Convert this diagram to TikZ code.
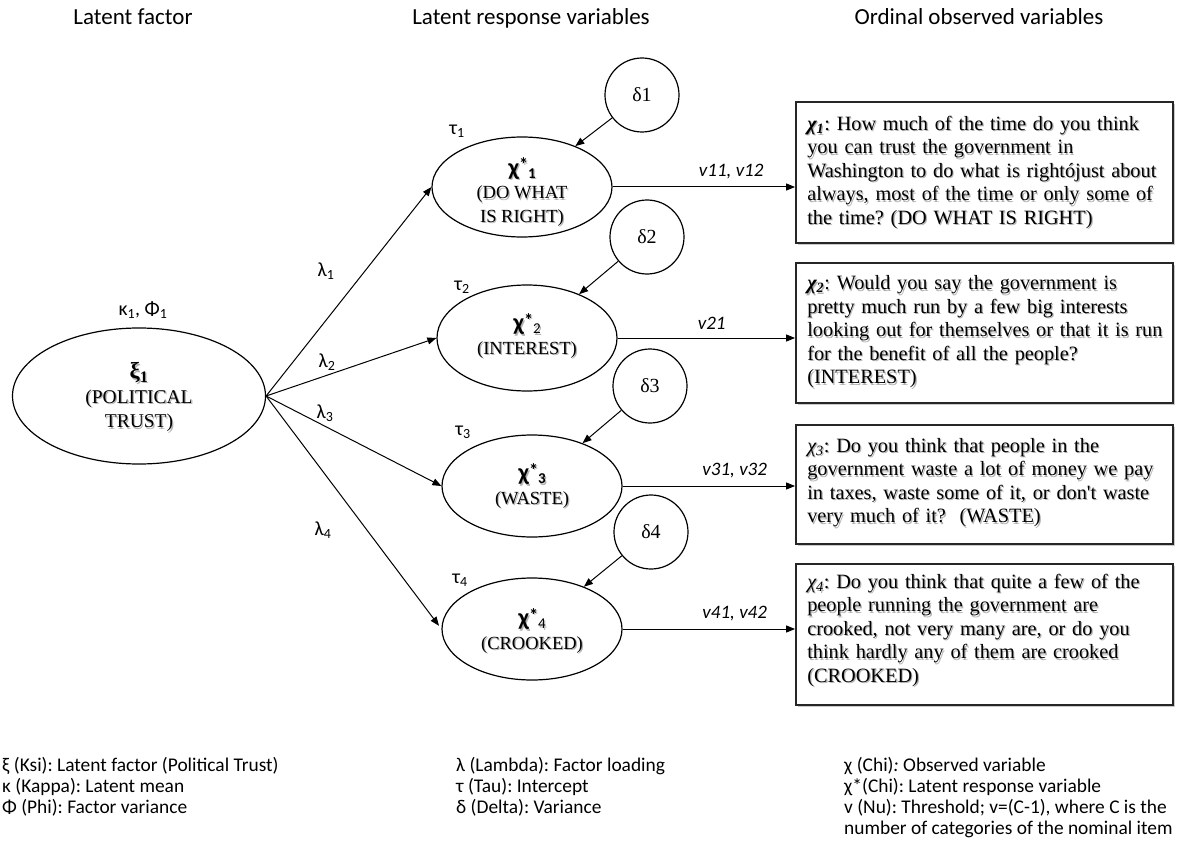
\documentclass[tikz,border=0pt]{standalone}
\usepackage{fontspec}
\setmainfont{Liberation Serif}[Ligatures=TeXOff]
\newfontfamily\calfont{Carlito}
\usetikzlibrary{arrows.meta,shadows,shapes.geometric,calc}

% question texts of the four ordinal items
\newcommand\QtxtA{{\bfseries\itshape χ\textsubscript{1}}: How much of the time do you think\\
you can trust the government in\\
Washington to do what is rightójust about\\
always, most of the time or only some of\\
the time? (DO WHAT IS RIGHT)}
\newcommand\QtxtB{{\bfseries\itshape χ\textsubscript{2}}: Would you say the government is\\
pretty much run by a few big interests\\
looking out for themselves or that it is run\\
for the benefit of all the people?\\
(INTEREST)}
\newcommand\QtxtC{{\itshape χ\textsubscript{3}}: Do you think that people in the\\
government waste a lot of money we pay\\
in taxes, waste some of it, or don't waste\\
very much of it?\ \ (WASTE)}
\newcommand\QtxtD{{\itshape χ\textsubscript{4}}: Do you think that quite a few of the\\
people running the government are\\
crooked, not very many are, or do you\\
think hardly any of them are crooked\\
(CROOKED)}
% latent response symbol: chi, star, index
\newcommand\chistar[1]{{\calfont\bfseries\fontsize{24}{24}\selectfont χ\raisebox{4.5pt}{\fontsize{18}{18}\selectfont *}\raisebox{-3pt}{\fontsize{15}{15}\selectfont #1}}}
% texts inside the latent ellipses
\newcommand\XtxtA{\chistar{1}\\(DO WHAT\\IS RIGHT)}
\newcommand\XtxtB{\chistar{\mdseries 2}\\(INTEREST)}
\newcommand\XtxtC{\chistar{3}\\(WASTE)}
\newcommand\XtxtD{\chistar{\mdseries 4}\\(CROOKED)}
\newcommand\XiTxt{{\bfseries\fontsize{23}{23}\selectfont ξ\textsubscript{1}}\\(POLITICAL\\TRUST)}

\begin{document}
\begin{tikzpicture}[x=1pt,y=-1pt,
  lat/.style={ellipse, draw, line width=1.2pt, inner sep=0pt},
  lattxt/.style={align=center, inner sep=0pt, font=\fontsize{18.5}{23.5}\selectfont},
  xitxt/.style={align=center, inner sep=0pt, font=\fontsize{19.5}{24.5}\selectfont},
  err/.style={circle, draw, line width=1.2pt, minimum size=74pt, inner sep=0pt, font=\fontsize{20}{22}\selectfont},
  arr/.style={-{Triangle[length=9pt,width=7pt]}, line width=1pt},
  obsbox/.style={draw=black!85, line width=1.8pt, fill=white, minimum width=377pt,
    drop shadow={shadow xshift=1.5pt, shadow yshift=-2pt, opacity=0.35, fill=black!60}},
  obstxt/.style={anchor=west, inner sep=0pt, text width=362pt, align=left, font=\fontsize{20.3}{23.5}\selectfont\frenchspacing},
  shd/.style={text=black!30, xshift=1.2pt, yshift=-1.5pt},
  head/.style={font=\calfont\fontsize{23}{27}\selectfont, anchor=base, inner sep=0pt},
  leg/.style={font=\calfont\fontsize{19.4}{21}\selectfont\frenchspacing, anchor=base west, inner sep=0pt},
  sym/.style={font=\calfont\fontsize{20}{24}\selectfont, inner sep=0pt},
  vlab/.style={font=\calfont\itshape\fontsize{19}{22}\selectfont, inner sep=0pt, above=8pt},
]
\useasboundingbox (0,0) rectangle (1177,845);

% column headings
\node[head] (h1) at (133,25) {Latent factor};
\node[head] (h2) at (531,25) {Latent response variables};
\node[head] (h3) at (979,25) {Ordinal observed variables};

% latent factor
\node[xitxt, shd] (xis) at (139,397) {\XiTxt};
\node[lat, minimum width=253pt, minimum height=136pt] (xi) at (139,396) {};
\node[xitxt] (xit) at (139,397) {\XiTxt};
\node[sym] (kp) at (143,310) {κ\textsubscript{1}, Φ\textsubscript{1}};

% latent response variables
\node[lat, minimum width=180pt, minimum height=100pt] (x1) at (522,187) {};
\node[lat, minimum width=180pt, minimum height=106pt] (x2) at (527,338) {};
\node[lat, minimum width=180pt, minimum height=102pt] (x3) at (532,486) {};
\node[lat, minimum width=180pt, minimum height=102pt] (x4) at (532,629) {};
\node[lattxt, shd] (x1s) at (522,192) {\XtxtA};
\node[lattxt] (x1t) at (522,192) {\XtxtA};
\node[lattxt, shd] (x2s) at (527,336) {\XtxtB};
\node[lattxt] (x2t) at (527,336) {\XtxtB};
\node[lattxt, shd] (x3s) at (532,486) {\XtxtC};
\node[lattxt] (x3t) at (532,486) {\XtxtC};
\node[lattxt, shd] (x4s) at (532,631) {\XtxtD};
\node[lattxt] (x4t) at (532,631) {\XtxtD};

% intercepts
\node[sym] (t1) at (457,131) {τ\textsubscript{1}};
\node[sym] (t2) at (462,287) {τ\textsubscript{2}};
\node[sym] (t3) at (463,432) {τ\textsubscript{3}};
\node[sym] (t4) at (460,580) {τ\textsubscript{4}};

% variances
\node[err] (d1) at (642,95) {δ1};
\node[err] (d2) at (647,237) {δ2};
\node[err] (d3) at (650,386) {δ3};
\node[err] (d4) at (651,532) {δ4};

% ordinal observed variables
\node[obsbox, minimum height=141pt] (o1) at (984.5,172.5) {};
\node[obsbox, minimum height=140pt] (o2) at (984.5,333) {};
\node[obsbox, minimum height=119pt] (o3) at (984.5,484.5) {};
\node[obsbox, minimum height=141pt] (o4) at (984.5,634.5) {};
\node[obstxt, shd] (o1s) at ([xshift=12pt]o1.west) {\QtxtA};
\node[obstxt] (o1t) at ([xshift=12pt]o1.west) {\QtxtA};
\node[obstxt, shd] (o2s) at ([xshift=12pt,yshift=1pt]o2.west) {\QtxtB};
\node[obstxt] (o2t) at ([xshift=12pt,yshift=1pt]o2.west) {\QtxtB};
\node[obstxt, shd] (o3s) at ([xshift=12pt,yshift=2pt]o3.west) {\QtxtC};
\node[obstxt] (o3t) at ([xshift=12pt,yshift=2pt]o3.west) {\QtxtC};
\node[obstxt, shd] (o4s) at ([xshift=12pt,yshift=4pt]o4.west) {\QtxtD};
\node[obstxt] (o4t) at ([xshift=12pt,yshift=4pt]o4.west) {\QtxtD};

% factor loadings
\draw[arr] (xi.east) -- (x1.west);
\draw[arr] (xi.east) -- (x2.west);
\draw[arr] (xi.east) -- (x3.west);
\draw[arr, shorten >=4pt] (xi.east) -- (x4.west);
\node[sym] (l1) at (326,271) {λ\textsubscript{1}};
\node[sym] (l2) at (327,362) {λ\textsubscript{2}};
\node[sym] (l3) at (325,413) {λ\textsubscript{3}};
\node[sym] (l4) at (323,530) {λ\textsubscript{4}};

% error terms
\draw[arr] (d1) -- (x1);
\draw[arr] (d2) -- (x2);
\draw[arr] (d3) -- (x3);
\draw[arr] (d4) -- (x4);

% thresholds
\draw[arr] (x1.east) -- (x1.east -| o1.west) node[vlab, pos=0.65] (v1) {v11, v12};
\draw[arr] (x2.east) -- (x2.east -| o2.west) node[vlab, pos=0.53] (v2) {v21};
\draw[arr] (x3.east) -- (x3.east -| o3.west) node[vlab, pos=0.65] (v3) {v31, v32};
\draw[arr] (x4.east) -- (x4.east -| o4.west) node[vlab, pos=0.65] (v4) {v41, v42};

% legend
\node[leg] (g11) at (2,771) {ξ (Ksi): Latent factor (Political Trust)};
\node[leg] (g12) at (2,792) {κ (Kappa): Latent mean};
\node[leg] (g13) at (2,813) {Φ (Phi): Factor variance};
\node[leg] (g21) at (456,771) {λ (Lambda): Factor loading};
\node[leg] (g22) at (456,792) {τ (Tau): Intercept};
\node[leg] (g23) at (456,813) {δ (Delta): Variance};
\node[leg] (g31) at (844,771) {χ (Chi)\textit{:} Observed variable};
\node[leg] (g32) at (844,792) {χ*(Chi): Latent response variable};
\node[leg] (g33) at (844,813) {v (Nu): Threshold; v=(C-1), where C is the};
\node[leg] (g34) at (844,834) {number of categories of the nominal item};
\end{tikzpicture}
\end{document}
